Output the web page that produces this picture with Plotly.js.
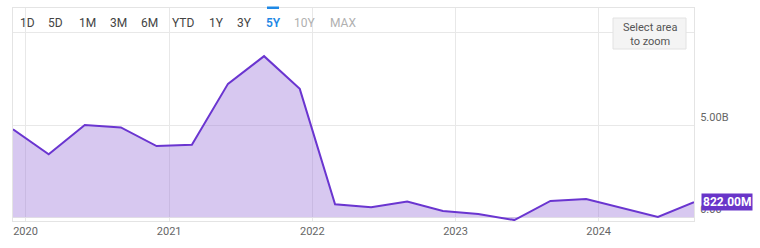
<!DOCTYPE html>
<html>
<head>
<meta charset="utf-8">
<script src="https://cdn.plot.ly/plotly-3.0.1.min.js"></script>
<style>html,body{margin:0;padding:0;background:#fff}#chart{width:760px;height:248px}</style>
</head>
<body>
<div id="chart"></div>
<script>
const dates = ['2019-11-30','2020-02-29','2020-05-31','2020-08-31','2020-11-30','2021-02-28','2021-05-31','2021-08-31','2021-11-30','2022-02-28','2022-05-31','2022-08-31','2022-11-30','2023-02-28','2023-05-31','2023-08-31','2023-11-30','2024-02-29','2024-05-31','2024-08-31'];
const values = [4.77e9,3.41e9,5.0e9,4.87e9,3.86e9,3.93e9,7.23e9,8.73e9,6.96e9,0.71e9,0.54e9,0.85e9,0.34e9,0.18e9,-0.15e9,0.89e9,0.99e9,0.51e9,0.02e9,0.822e9];
const yTickVals = [0,5e9,10e9];
const yTickText = ['0.00','5.00B',''];
const xTickVals = ['2020-01-01','2021-01-01','2022-01-01','2023-01-01','2024-01-01'];
const xTickText = ['2020','2021','2022','2023','2024'];
const buttons = ['1D','5D','1M','3M','6M','YTD','1Y','3Y','5Y','10Y','MAX'];
const buttonX = [27.5,55.5,87,118,149.5,183,216,244,273,304.5,342.5];
const badgeText = '822.00M';

const L=13, R=694, T=8, B=221;
const px = v => (v - L)/(R - L);
const py = v => (B - v)/(B - T);

const annotations = buttons.map((b,i)=>({
  text: b, xref:'paper', yref:'paper', x: px(buttonX[i]), y: py(23), showarrow:false,
  xanchor:'center', yanchor:'middle',
  font:{family:'Roboto', size:12, color: b==='5Y' ? '#1e88e5' : (b==='10Y'||b==='MAX' ? '#b0b0b0' : '#444'), weight: b==='5Y' ? 600 : 400}
}));
annotations.push({
  text:'Select area<br>to zoom', xref:'paper', yref:'paper', x: px(649.5), y: py(34), showarrow:false,
  xanchor:'center', yanchor:'middle', font:{family:'Roboto', size:11, color:'#555'}
});
annotations.push({
  text:'<b>'+badgeText+'</b>', x: dates[dates.length-1], y: values[values.length-1], xref:'x', yref:'y',
  showarrow:false, xanchor:'left', yanchor:'middle', xshift:7, bgcolor:'#6935c9', borderpad:1,
  font:{family:'Roboto', size:12, color:'#fff'}
});

const layout = {
  width:760, height:248,
  margin:{l:L, r:760-R, t:T, b:248-B, pad:0},
  paper_bgcolor:'#fff', plot_bgcolor:'#fff',
  showlegend:false,
  xaxis:{type:'date', range:[dates[0], dates[dates.length-1]], tickvals:xTickVals, ticktext:xTickText,
    showgrid:true, gridcolor:'#e8e8e8', gridwidth:1, zeroline:false,
    showline:true, linecolor:'#e4e4e4', linewidth:1, mirror:true, ticks:'',
    tickfont:{family:'Roboto', size:11, color:'#666'}, fixedrange:true},
  yaxis:{range:[-0.2e9, 11.34e9], tickvals:yTickVals, ticktext:yTickText, side:'right',
    ticklabelposition:'outside top', ticklabelstandoff:3, showgrid:true, gridcolor:'#e8e8e8', zeroline:false,
    showline:true, linecolor:'#e4e4e4', linewidth:1, mirror:true, ticks:'',
    tickfont:{family:'Roboto', size:11, color:'#666'}, fixedrange:true},
  annotations: annotations,
  shapes:[
    {type:'rect', xref:'paper', yref:'paper', x0:px(613), x1:px(686), y0:py(18), y1:py(49),
     fillcolor:'#f4f4f4', line:{color:'#e2e2e2', width:1}, layer:'above'},
    {type:'rect', xref:'paper', yref:'paper', x0:px(267), x1:px(279), y0:py(6.5), y1:py(9),
     fillcolor:'#1e88e5', line:{width:0}, layer:'above'},
    {type:'path', xref:'x', yref:'y', xsizemode:'pixel', ysizemode:'pixel',
     xanchor:dates[dates.length-1], yanchor:values[values.length-1],
     path:'M1,0 L8,-7 L8,7 Z', fillcolor:'#6935c9', line:{width:0}, layer:'above'}
  ]
};

const trace = {
  x: dates, y: values, type:'scatter', mode:'lines', fill:'tozeroy',
  line:{color:'#6a35d0', width:2}, fillcolor:'rgba(150,110,215,0.38)', hoverinfo:'skip'
};

Plotly.newPlot('chart', [trace], layout, {displayModeBar:false, staticPlot:true});
</script>
</body>
</html>
